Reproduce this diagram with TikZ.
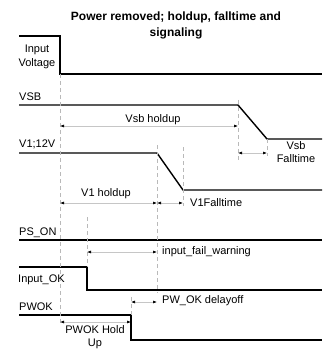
\documentclass[tikz,border=0pt]{standalone}
\usepackage{fontspec}
\setmainfont{Liberation Sans}
\usetikzlibrary{arrows.meta}
\begin{document}
\begin{tikzpicture}[x=1pt,y=-1pt,
  sig/.style={line width=1.4pt,black},
  guide/.style={gray!55,line width=0.6pt,dash pattern=on 4pt off 3pt},
  span/.style={gray!45,line width=0.6pt,{Latex[length=4pt,width=3pt,black]}-{Latex[length=4pt,width=3pt,black]}},
  lbl/.style={inner sep=0pt,font=\fontsize{11}{13.5}\selectfont,align=center},
  ttl/.style={inner sep=0pt,font=\fontsize{12}{16}\selectfont\bfseries,align=center}]
\useasboundingbox (0,0) rectangle (328,350);
% title
\node[ttl] (title) at (176,25) {Power removed; holdup, falltime and\\signaling};
% signal traces
\draw[sig] (19,36) -- (60,36) -- (60,74) -- (322,74);
\draw[sig] (19,105) -- (238,105) -- (267,139) -- (322,139);
\draw[sig] (19,153) -- (157,153) -- (183,190) -- (322,190);
\draw[sig] (19,240) -- (322,240);
\draw[sig] (19,267) -- (87,267) -- (87,290) -- (322,290);
\draw[sig] (19,315) -- (131,315) -- (131,340) -- (322,340);
% guide coordinates
\coordinate (a0) at (60,74);   \coordinate (a1) at (60,325);
\coordinate (b0) at (238,100); \coordinate (b1) at (238,160);
\coordinate (c0) at (267,139); \coordinate (c1) at (267,156);
\coordinate (d0) at (157,145); \coordinate (d1) at (157,293);
\coordinate (e0) at (183,147); \coordinate (e1) at (183,206);
\coordinate (f0) at (87,217);  \coordinate (f1) at (87,267);
\coordinate (g0) at (131,297); \coordinate (g1) at (131,315);
\draw[guide] (a0) -- (a1);
\draw[guide] (b0) -- (b1);
\draw[guide] (c0) -- (c1);
\draw[guide] (d0) -- (d1);
\draw[guide] (e0) -- (e1);
\draw[guide] (f0) -- (f1);
\draw[guide] (g0) -- (g1);
% span coordinates
\coordinate (s1a) at (60,126);  \coordinate (s1b) at (238,126);
\coordinate (s2a) at (238,153); \coordinate (s2b) at (267,153);
\coordinate (s3a) at (60,203);  \coordinate (s3b) at (157,203);
\coordinate (s4a) at (157,203); \coordinate (s4b) at (183,203);
\coordinate (s5a) at (87,252);  \coordinate (s5b) at (157,252);
\coordinate (s6a) at (131,302); \coordinate (s6b) at (157,302);
\coordinate (s7a) at (60,322);  \coordinate (s7b) at (131,322);
\draw[span] (s1a) -- (s1b);
\draw[span] (s2a) -- (s2b);
\draw[span] (s3a) -- (s3b);
\draw[span] (s4a) -- (s4b);
\draw[span] (s5a) -- (s5b);
\draw[span] (s6a) -- (s6b);
\draw[span] (s7a) -- (s7b);
% labels
\node[lbl] (lin) at (37,57) {Input\\Voltage};
\node[lbl,anchor=west] (lvsb) at (19,97) {VSB};
\node[lbl] (lvh) at (153,120) {Vsb holdup};
\node[lbl,anchor=west] (lv1) at (19,144) {V1;12V};
\node[lbl] (lvf) at (296,152) {Vsb\\Falltime};
\node[lbl] (lv1h) at (106,194) {V1 holdup};
\node[lbl,anchor=west] (lv1f) at (190,203) {V1Falltime};
\node[lbl,anchor=west] (lps) at (19,233) {PS\_ON};
\node[lbl,anchor=west] (lifw) at (162,252) {input\_fail\_warning};
\node[lbl,anchor=west] (lok) at (18,280) {Input\_OK};
\node[lbl,anchor=west] (lpwd) at (162,301) {PW\_OK delayoff};
\node[lbl,anchor=west] (lpw) at (19,307) {PWOK};
\node[lbl] (lpwh) at (95,337) {PWOK Hold\\Up};
\end{tikzpicture}
\end{document}
